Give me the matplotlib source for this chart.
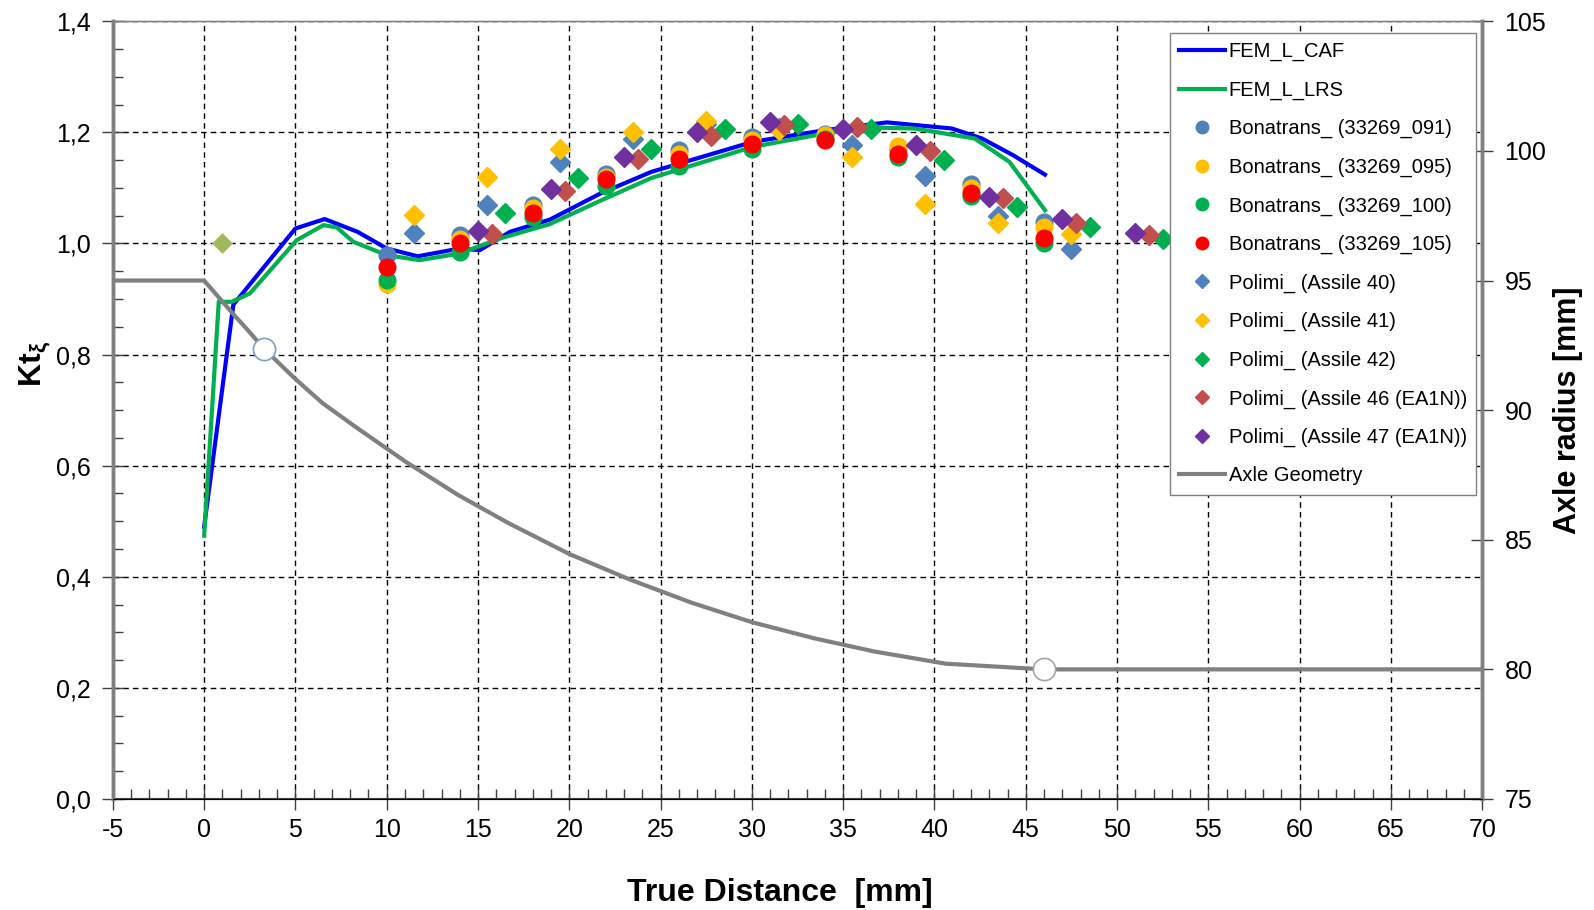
import numpy as np
import matplotlib
matplotlib.use('Agg')
import matplotlib.pyplot as plt
from matplotlib.ticker import MultipleLocator, FuncFormatter

plt.rcParams['font.family'] = ['Liberation Sans', 'DejaVu Sans']
plt.rcParams['mathtext.fontset'] = 'custom'
plt.rcParams['mathtext.rm'] = 'Liberation Sans'
plt.rcParams['mathtext.bf'] = 'Liberation Sans:bold'
plt.rcParams['axes.unicode_minus'] = False

# FEM curves (left axis)
caf_x = [0, 1.6, 5.0, 6.6, 8.4, 10, 11.7, 14, 15.1, 16.75, 18.94, 21.7, 24.5, 30.05, 34.0, 37.4, 40.95, 42.6, 44.3, 46.05]
caf_y = [0.49, 0.89, 1.027, 1.044, 1.021, 0.991, 0.977, 0.991, 0.988, 1.021, 1.043, 1.090, 1.129, 1.183, 1.204, 1.218, 1.207, 1.189, 1.159, 1.124]
lrs_x = [0, 0.8, 1.5, 2.5, 5.07, 6.53, 7.26, 8.17, 10, 11.8, 14, 16.2, 18.94, 21.7, 24.5, 30.05, 34.0, 36.3, 38.9, 42.2, 44.1, 46.05]
lrs_y = [0.474, 0.895, 0.895, 0.910, 1.006, 1.033, 1.029, 1.003, 0.979, 0.970, 0.982, 1.009, 1.035, 1.077, 1.118, 1.174, 1.198, 1.209, 1.207, 1.189, 1.147, 1.060]

# Bonatrans measurements
bona_x = [10, 14, 18, 22, 26, 30, 34, 38, 42, 46]
bona_091 = [0.979, 1.015, 1.069, 1.125, 1.168, 1.192, 1.198, 1.171, 1.107, 1.039]
bona_095 = [0.927, 1.008, 1.063, 1.120, 1.161, 1.186, 1.195, 1.176, 1.099, 1.030]
bona_100 = [0.934, 0.985, 1.048, 1.104, 1.140, 1.171, 1.189, 1.155, 1.085, 1.000]
bona_105 = [0.958, 1.000, 1.054, 1.116, 1.152, 1.179, 1.186, 1.161, 1.091, 1.009]

# Polimi measurements
pol40_x = [11.5, 15.5, 19.5, 23.5, 27.5, 31.5, 35.5, 39.5, 43.5, 47.5]
pol40_y = [1.018, 1.069, 1.147, 1.189, 1.216, 1.208, 1.177, 1.122, 1.049, 0.990]
pol41_x = [11.5, 15.5, 19.5, 23.5, 27.5, 31.5, 35.5, 39.5, 43.5, 47.5]
pol41_y = [1.051, 1.119, 1.171, 1.200, 1.221, 1.204, 1.155, 1.071, 1.037, 1.017]
pol42_x = [16.5, 20.5, 24.5, 28.5, 32.5, 36.5, 40.5, 44.5, 48.5, 52.5]
pol42_y = [1.054, 1.117, 1.171, 1.206, 1.216, 1.207, 1.150, 1.065, 1.029, 1.008]
pol46_x = [15.75, 19.75, 23.75, 27.75, 31.75, 35.75, 39.75, 43.75, 47.75, 51.75]
pol46_y = [1.017, 1.095, 1.152, 1.194, 1.213, 1.210, 1.167, 1.081, 1.036, 1.015]
pol47_x = [15, 19, 23, 27, 31, 35, 39, 43, 47, 51]
pol47_y = [1.022, 1.098, 1.155, 1.200, 1.218, 1.206, 1.177, 1.084, 1.044, 1.019]

extra_x = [1.0]     # lone olive point
extra_y = [1.0]

# axle geometry (right axis)
axle_x = [-5, 0, 1.6, 2.4, 3.3, 5.0, 6.5, 8.4, 11.1, 13.9, 16.7, 20.0, 23.3, 26.7, 30.0, 33.4, 36.7, 40.6, 44.5, 46.0, 70]
axle_r = [95, 95, 93.7, 93.08, 92.35, 91.2, 90.26, 89.3, 87.98, 86.73, 85.63, 84.45, 83.47, 82.57, 81.82, 81.2, 80.69, 80.22, 80.06, 80.0, 80.0]
circ_x = [3.3, 46.0]
circ_r = [92.35, 80.0]

fig = plt.figure(figsize=(15.94, 9.1), dpi=100)
ax = fig.add_axes([0.0708, 0.122, 0.8591, 0.8546])
ax2 = ax.twinx()

h = []
h += ax.plot(caf_x, caf_y, color='#0000FF', lw=3, label='FEM_L_CAF', zorder=3)
h += ax.plot(lrs_x, lrs_y, color='#00B050', lw=3, label='FEM_L_LRS', zorder=3)

ax.plot(extra_x, extra_y, 'D', color='#9BBB59', mec='#E0B070', mew=0.6, ms=10, zorder=4)

cms = 12
h += ax.plot(bona_x, bona_091, 'o', color='#4F81BD', ms=cms, label='Bonatrans_ (33269_091)', zorder=4)
h += ax.plot(bona_x, bona_095, 'o', color='#FFC000', ms=cms, label='Bonatrans_ (33269_095)', zorder=4)
h += ax.plot(bona_x, bona_100, 'o', color='#00B050', ms=cms, label='Bonatrans_ (33269_100)', zorder=4)
h += ax.plot(bona_x, bona_105, 'o', color='#FF0000', ms=cms, label='Bonatrans_ (33269_105)', zorder=4)

dms = 10
h += ax.plot(pol40_x, pol40_y, 'D', color='#4F81BD', ms=dms, label='Polimi_ (Assile 40)', zorder=4)
h += ax.plot(pol41_x, pol41_y, 'D', color='#FFC000', ms=dms, label='Polimi_ (Assile 41)', zorder=4)
h += ax.plot(pol42_x, pol42_y, 'D', color='#00B050', ms=dms, label='Polimi_ (Assile 42)', zorder=4)
h += ax.plot(pol46_x, pol46_y, 'D', color='#C0504D', ms=dms, label='Polimi_ (Assile 46 (EA1N))', zorder=4)
h += ax.plot(pol47_x, pol47_y, 'D', color='#7030A0', ms=dms, label='Polimi_ (Assile 47 (EA1N))', zorder=4)

h += ax2.plot(axle_x, axle_r, color='#808080', lw=3, label='Axle Geometry', zorder=2)
ax2.plot(circ_x[:1], circ_r[:1], 'o', ms=16, mfc='white', mec='#7F9FC8', mew=1.2, zorder=3)
ax2.plot(circ_x[1:], circ_r[1:], 'o', ms=16, mfc='white', mec='#A6A6A6', mew=1.2, zorder=3)

ax.set_xlim(-5, 70)
ax.set_ylim(0, 1.4)
ax2.set_ylim(75, 105)

ax.xaxis.set_major_locator(MultipleLocator(5))
ax.xaxis.set_minor_locator(MultipleLocator(1))
ax.yaxis.set_major_locator(MultipleLocator(0.2))
ax.yaxis.set_minor_locator(MultipleLocator(0.05))
ax2.yaxis.set_major_locator(MultipleLocator(5))
ax.yaxis.set_major_formatter(FuncFormatter(lambda v, p: ('%.1f' % v).replace('.', ',')))

ax.grid(True, which='major', color='black', ls=(0, (4, 3)), lw=1)
ax.set_axisbelow(True)

ax.tick_params(axis='both', which='major', direction='inout', length=16, width=1, labelsize=18, color='#404040')
ax.tick_params(axis='both', which='minor', direction='in', length=7, width=1, color='#404040')
ax.tick_params(axis='x', which='major', pad=6)
ax.tick_params(axis='y', which='major', pad=8)
ax2.tick_params(axis='y', which='major', direction='inout', length=16, width=1, labelsize=18, pad=8, color='#404040')

for sp in ['left', 'right']:
    ax.spines[sp].set_color('#808080')
    ax.spines[sp].set_linewidth(2.5)
    ax2.spines[sp].set_color('#808080')
    ax2.spines[sp].set_linewidth(2.5)
ax2.spines['top'].set_color('#808080')
ax2.spines['top'].set_linewidth(1)
ax.spines['bottom'].set_color('#404040')
ax.spines['bottom'].set_linewidth(1.5)

ax.set_xlabel('True Distance  [mm]', fontsize=23, fontweight='bold')
ax.xaxis.set_label_coords(0.487, -0.102)
ax.set_ylabel(r'Kt$_{\mathbf{\xi}}$', fontsize=23, fontweight='bold')
ax.yaxis.set_label_coords(-0.044, 0.56)
ax2.set_ylabel('Axle radius [mm]', fontsize=22, fontweight='bold')
ax2.yaxis.set_label_coords(1.052, 0.5)

leg = ax2.legend(handles=h, loc='upper right', bbox_to_anchor=(0.9955, 0.985), fontsize=14.5,
                 frameon=True, fancybox=False, edgecolor='#808080', framealpha=1,
                 handlelength=2.25, handletextpad=0.2, labelspacing=0.96, borderpad=0.45,
                 markerscale=0.75, borderaxespad=0)
leg.get_frame().set_linewidth(1)
leg.set_zorder(10)

fig.savefig('out.png', dpi=100)
